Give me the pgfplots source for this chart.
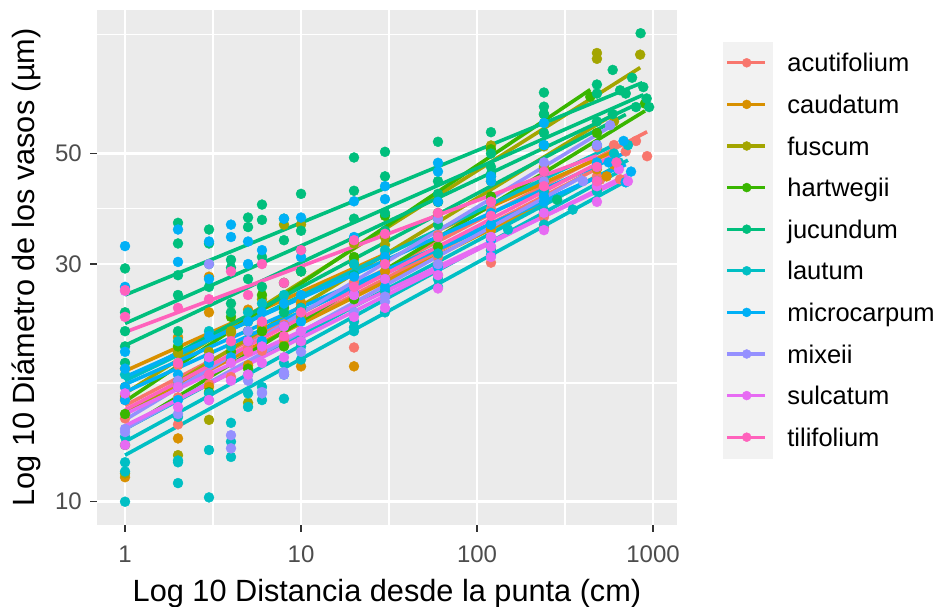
\documentclass[border=0pt]{standalone}
\usepackage{fontspec}
\setmainfont{Liberation Sans}
\usepackage{pgfplots}
\pgfplotsset{compat=1.18}
\definecolor{cA}{HTML}{F8766D}
\definecolor{cC}{HTML}{D89000}
\definecolor{cF}{HTML}{A3A500}
\definecolor{cH}{HTML}{39B600}
\definecolor{cJ}{HTML}{00BF7D}
\definecolor{cL}{HTML}{00BFC4}
\definecolor{cM}{HTML}{00B0F6}
\definecolor{cX}{HTML}{9590FF}
\definecolor{cS}{HTML}{E76BF3}
\definecolor{cT}{HTML}{FF62BC}
\definecolor{panelbg}{HTML}{EBEBEB}
\definecolor{keybg}{HTML}{F2F2F2}
\definecolor{tickcol}{HTML}{333333}
\definecolor{labcol}{HTML}{4D4D4D}
\pgfplotsset{
  pts/.style={only marks, mark=*, mark size=5pt, mark options={draw=none}, forget plot},
  lns/.style={line width=3.6pt, no marks, forget plot},
}
\begin{document}
\begin{tikzpicture}
\useasboundingbox (-97pt,-82pt) rectangle (846pt,525pt);
\begin{axis}[
  at={(0,0)}, anchor=south west,
  scale only axis, width=580pt, height=515pt,
  xmode=log, ymode=log,
  xmin=0.693, xmax=1368, ymin=8.98, ymax=97.1,
  axis background/.style={fill=panelbg},
  axis line style={draw=none},
  xtick={1,10,100,1000}, xticklabels={1,10,100,1000},
  ytick={10,30,50}, yticklabels={10,30,50},
  minor xtick={3.1623,31.623,316.23},
  minor ytick={17.32,38.73,86.6},
  grid=both,
  major grid style={white, line width=2.5pt},
  minor grid style={white, line width=1.2pt},
  tick align=outside, tick pos=left,
  major tick length=7pt, minor tick length=0pt,
  tick style={color=tickcol, line width=1.4pt},
  ticklabel style={font=\fontsize{24}{28}\selectfont, color=labcol},
  xticklabel style={anchor=base, yshift=-31pt},
  yticklabel style={anchor=east, inner sep=0pt, xshift=-8pt},
  xlabel={Log 10 Distancia desde la punta (cm)},
  ylabel={Log 10 Diámetro de los vasos (µm)},
  label style={font=\fontsize{30.7}{36}\selectfont, text=black},
  xlabel style={at={(axis description cs:0.5,-0.149515)}, anchor=base},
  ylabel style={at={(axis description cs:-0.1069,0.5)}, anchor=base},
  legend style={at={(axis description cs:1.07931,0.93786)}, anchor=north west,
    draw=none, fill=none, inner sep=0pt, outer sep=0pt, row sep=0pt, column sep=15pt,
    font=\fontsize{25.5}{30}\selectfont,
    nodes={inner sep=0pt, text height=18.3pt, text depth=0pt, anchor=west}},
  legend cell align=left,
  legend image code/.code={
    \fill[keybg] (0pt,-20.6pt) rectangle (49pt,20.6pt);
    \draw[#1, line width=3.2pt] (4pt,0pt) -- (42pt,0pt);
    \fill[#1] (23.5pt,0pt) circle (4.5pt);
  },
]
% ---------------- points ----------------
% acutifolium
\addplot[pts, color=cA] coordinates {(1,14.7)(2,18.8)(3,17.2)(4,21.8)(5,20.4)(6,22.8)(8,21.1)(10,24.9)(20,25.8)(30,31.4)(60,31.0)(120,38.7)(240,41.4)(480,51.5)(925,49.4)
(1,16.1)(2,16.2)(3,19.1)(4,17.8)(5,22.0)(6,20.1)(8,22.7)(10,20.8)(20,27.6)(30,26.3)(60,34.3)(120,35.1)(240,41.9)(500,44.3)
(1,16.0)(2,14.3)(20,20.4)(120,30.2)(240,37.3)(240,35.5)(480,45.0)(120,32.5)(60,28.5)(700,50.5)(800,53.0)(600,52.0)(650,44.4)};
% caudatum
\addplot[pts, color=cC] coordinates {(1,17.0)(2,21.4)(3,24.0)(4,21.9)(5,24.3)(6,22.4)(8,27.5)(10,25.1)(20,30.6)(30,30.5)(60,37.1)(120,35.2)(240,43.7)(600,47.5)
(1,11.2)(2,13.4)(3,17.0)(4,20.5)(5,18.8)(6,22.0)(8,20.6)(10,18.7)(20,18.7)(30,29.0)(60,30.0)(120,32.0)(240,38.0)(480,42.3)
(3,28.3)(1,18.5)(2,20.0)(480,46.5)(545,45.0)};
% fuscum
\addplot[pts, color=cF] coordinates {(1,16.3)(2,19.9)(3,14.6)(4,22.0)(5,15.8)(6,25.5)(8,36.0)(10,36.0)(20,33.0)(30,34.0)(60,40.0)(120,51.9)(240,51.7)(480,79.6)(845,79.0)
(1,11.4)(2,12.4)(3,20.0)(4,19.2)(5,23.0)(6,20.8)(8,25.0)(10,23.5)(20,30.0)(30,32.8)(60,38.0)(120,44.0)(240,47.0)(480,77.5)(600,58.0)};
% hartwegii
\addplot[pts, color=cH] coordinates {(1,15.0)(2,20.5)(3,19.5)(4,23.5)(5,22.0)(6,26.0)(8,24.5)(10,29.0)(20,31.0)(30,37.5)(60,40.0)(120,51.0)(240,60.0)(440,65.0)
(1,13.0)(2,17.5)(3,16.6)(4,20.0)(5,18.5)(6,22.0)(8,20.5)(10,24.5)(20,25.5)(30,31.0)(60,32.5)(120,41.0)(240,44.0)(480,55.0)(900,63.0)};
% jucundum
\addplot[pts, color=cJ] coordinates {(1,29.4)(2,36.3)(3,35.2)(4,30.6)(5,37.2)(6,39.5)(8,37.0)(10,41.5)(20,49.1)(30,50.4)(60,52.8)(120,55.2)(240,66.3)(480,68.8)(850,87.2)
(1,24.0)(2,33.0)(3,30.0)(4,29.5)(5,35.6)(6,36.8)(8,33.5)(10,35.0)(20,42.1)(30,45.0)(60,44.0)(120,50.0)(240,62.1)(590,73.6)(880,68.0)
(1,22.0)(2,26.0)(3,27.0)(4,24.0)(5,28.0)(6,31.0)(8,27.5)(10,32.0)(20,37.0)(30,38.0)(60,41.5)(120,47.0)(240,55.0)(480,66.0)(800,62.0)
(1,19.0)(2,22.0)(3,19.5)(4,25.0)(5,22.0)(6,27.0)(8,24.0)(10,29.0)(20,28.5)(30,35.0)(60,36.0)(120,45.0)(240,52.0)(480,58.0)(700,66.0)
(920,64.5)(760,71.0)(650,67.0)(950,62.0)(285,40.4)(1,20.5)(2,28.5)(3,33.0)(120,45.5)(240,60.0)(590,60.0)};
% lautum
\addplot[pts, color=cL] coordinates {(1,10.0)(2,10.9)(3,10.2)(4,12.3)(5,15.5)(6,16.0)(8,16.1)(10,19.3)(20,22.0)(30,24.0)(60,27.0)(120,32.0)(240,36.0)(350,38.6)(700,43.8)
(1,12.0)(2,12.1)(3,12.7)(4,13.2)(5,16.5)(6,17.0)(8,18.0)(10,21.0)(20,22.4)(30,26.5)(60,28.0)(150,35.2)(240,38.5)(480,42.0)(640,48.0)
(1,13.5)(2,14.8)(3,16.5)(4,14.4)(5,18.0)(6,21.0)(8,19.0)(10,20.5)(20,23.0)(30,28.0)(60,31.5)(120,36.0)(240,42.0)(480,47.0)(720,52.0)
(1,18.0)(2,21.0)(3,22.0)(4,20.5)(5,24.0)(6,25.0)(8,26.0)(10,24.5)(20,30.0)(30,32.0)(60,37.0)(120,40.0)(240,46.0)(600,50.0)
(1,11.5)(2,12.0)};
% microcarpum
\addplot[pts, color=cM] coordinates {(1,18.5)(2,35.2)(3,33.3)(4,36.0)(5,33.3)(6,32.0)(8,37.0)(10,37.2)(20,40.1)(30,43.0)(60,47.9)(120,45.0)(240,57.6)(480,52.0)(680,53.0)
(1,27.0)(2,30.3)(3,19.0)(4,34.0)(5,21.0)(6,24.0)(8,22.5)(10,26.0)(20,26.2)(30,30.0)(60,29.6)(120,31.3)(240,40.0)(480,44.0)(700,43.8)
(1,16.0)(2,18.0)(3,21.5)(4,19.5)(5,23.0)(6,21.0)(8,25.0)(10,23.0)(20,28.3)(30,27.0)(60,34.0)(120,38.0)(240,41.0)(560,48.0)
(1,32.6)(1,17.0)(1,20.0)(2,17.0)(2,16.0)(120,33.5)(120,36.0)(120,40.0)(120,44.0)(60,46.0)(30,40.5)(480,48.0)(240,52.0)(750,46.0)(3,28.0)(5,30.0)(10,31.0)(20,34.0)(30,31.0)(60,40.0)};
% mixeii
\addplot[pts, color=cX] coordinates {(1,14.0)(2,17.5)(3,30.0)(4,13.6)(5,22.0)(6,16.6)(8,18.2)(10,22.0)(20,26.0)(30,25.2)(60,37.0)(120,40.0)(240,48.0)(480,52.0)(570,57.0)
(1,13.8)(2,15.0)(3,16.0)(4,12.8)(5,17.5)(6,16.5)(8,18.0)(10,20.0)(20,24.0)(30,25.8)(60,30.0)(120,34.0)(240,44.0)(400,44.0)};
% sulcatum
\addplot[pts, color=cS] coordinates {(1,13.0)(2,17.0)(3,16.0)(4,19.0)(5,18.0)(6,20.5)(8,19.5)(10,22.0)(20,23.5)(30,24.5)(60,26.8)(120,31.0)(240,35.1)(480,43.0)(720,44.0)
(1,16.5)(2,15.5)(3,19.5)(4,17.5)(5,21.0)(6,19.0)(8,22.5)(10,21.0)(20,26.0)(30,28.0)(60,28.5)(120,34.0)(240,38.0)(480,40.0)(640,46.5)
(120,32.5)(1,26.5)};
% tilifolium
\addplot[pts, color=cT] coordinates {(1,23.5)(2,24.5)(3,25.5)(4,29.0)(5,26.0)(6,30.0)(8,27.5)(10,32.0)(20,33.5)(30,34.5)(60,38.0)(120,40.0)(240,46.0)(480,47.0)
(1,26.6)(2,19.0)(3,18.0)(4,21.0)(5,20.0)(6,23.0)(8,21.5)(10,24.0)(20,27.0)(30,30.0)(60,34.0)(120,37.5)(240,43.0)(480,44.0)(620,48.0)};
% ---------------- fitted lines ----------------
\addplot[lns, color=cA] coordinates {(1,15.6)(925,55.3)};
\addplot[lns, color=cA] coordinates {(1,15.0)(500,47.0)};
\addplot[lns, color=cC] coordinates {(1,18.3)(600,50.5)};
\addplot[lns, color=cC] coordinates {(1,15.2)(480,45.0)};
\addplot[lns, color=cF] coordinates {(1,16.5)(845,74.4)};
\addplot[lns, color=cF] coordinates {(1,15.0)(600,60.0)};
\addplot[lns, color=cH] coordinates {(1,15.9)(440,67.2)};
\addplot[lns, color=cH] coordinates {(1,14.0)(900,60.9)};
\addplot[lns, color=cJ] coordinates {(1,26.0)(870,69.4)};
\addplot[lns, color=cJ] coordinates {(1,22.8)(880,65.6)};
\addplot[lns, color=cJ] coordinates {(1,20.6)(800,62.7)};
\addplot[lns, color=cJ] coordinates {(1,17.5)(700,59.9)};
\addplot[lns, color=cL] coordinates {(1,12.4)(700,44.0)};
\addplot[lns, color=cL] coordinates {(1,13.2)(640,46.0)};
\addplot[lns, color=cL] coordinates {(1,14.0)(720,48.5)};
\addplot[lns, color=cL] coordinates {(1,17.5)(600,52.0)};
\addplot[lns, color=cM] coordinates {(1,17.8)(680,50.0)};
\addplot[lns, color=cM] coordinates {(1,17.2)(700,47.5)};
\addplot[lns, color=cM] coordinates {(1,16.6)(560,46.0)};
\addplot[lns, color=cX] coordinates {(1,14.6)(570,56.6)};
\addplot[lns, color=cX] coordinates {(1,14.0)(400,45.0)};
\addplot[lns, color=cS] coordinates {(1,14.2)(720,45.4)};
\addplot[lns, color=cS] coordinates {(1,15.0)(640,44.0)};
\addplot[lns, color=cT] coordinates {(1,21.9)(480,49.5)};
\addplot[lns, color=cT] coordinates {(1,15.3)(620,50.0)};
% ---------------- legend ----------------
\addlegendimage{color=cA}\addlegendentry{acutifolium}
\addlegendimage{color=cC}\addlegendentry{caudatum}
\addlegendimage{color=cF}\addlegendentry{fuscum}
\addlegendimage{color=cH}\addlegendentry{hartwegii}
\addlegendimage{color=cJ}\addlegendentry{jucundum}
\addlegendimage{color=cL}\addlegendentry{lautum}
\addlegendimage{color=cM}\addlegendentry{microcarpum}
\addlegendimage{color=cX}\addlegendentry{mixeii}
\addlegendimage{color=cS}\addlegendentry{sulcatum}
\addlegendimage{color=cT}\addlegendentry{tilifolium}
\node[anchor=base west, inner sep=0pt, font=\fontsize{30.7}{36}\selectfont] at (axis description cs:1.07931,0.9645) {sp};
\end{axis}
\end{tikzpicture}
\end{document}
